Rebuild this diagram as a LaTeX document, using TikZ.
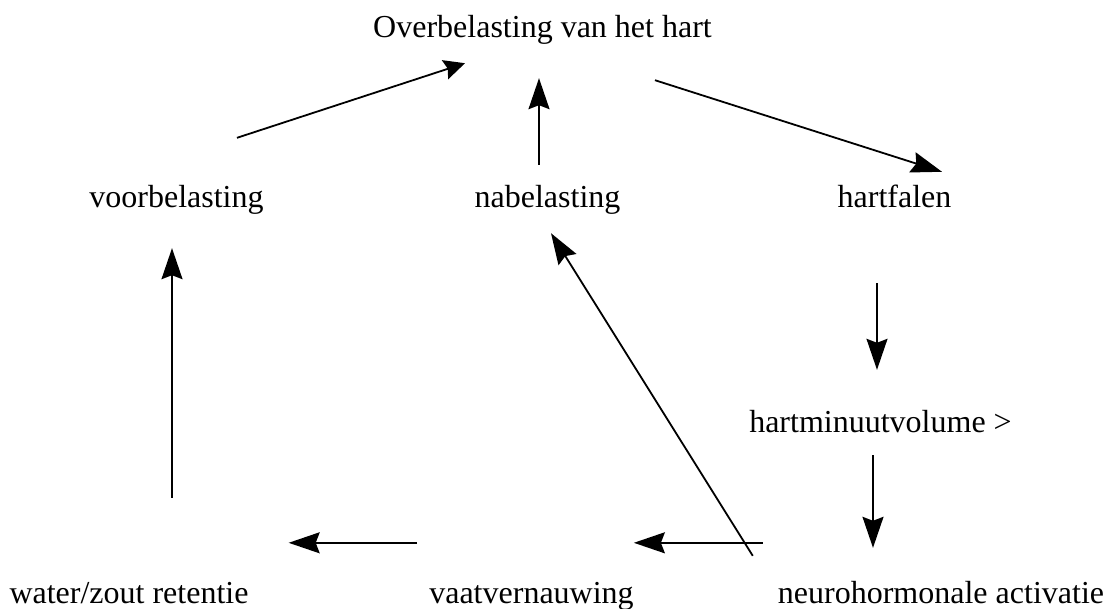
\documentclass[tikz,border=0pt]{standalone}
\usepackage{fontspec}
\setmainfont{Liberation Serif}
\usetikzlibrary{arrows.meta}
\begin{document}
\begin{tikzpicture}[x=1pt,y=-1pt,
lbl/.style={inner sep=0pt,anchor=base,text height=22pt,text depth=7pt,font=\fontsize{32}{38}\selectfont},
arr/.style={line width=1.8pt,-{Stealth[length=31pt,width=21pt,inset=4pt]}},
arrshort/.style={line width=1.8pt,-{Stealth[length=21pt,width=20pt,inset=3pt]}}]
\useasboundingbox (0,0) rectangle (1106,608);
\node[lbl] (over) at(542.5,37){Overbelasting van het hart};
\node[lbl] (voor) at(176.5,207){voorbelasting};
\node[lbl] (naba) at(547.5,207){nabelasting};
\node[lbl] (hart) at(894.5,207){hartfalen};
\node[lbl] (hmv) at(880.5,432){hartminuutvolume >};
\node[lbl] (water) at(129,603){water/zout retentie};
\node[lbl] (vaat) at(531.5,603){vaatvernauwing};
\node[lbl] (neuro) at(941,603){neurohormonale activatie};
\draw[arrshort] ([shift={(60.5,-47)}]voor.north) -- ([shift={(-77.5,19)}]over.south);
\draw[arr] ([shift={(-8.5,-20)}]naba.north) -- ([shift={(-3.5,34)}]over.south);
\draw[arr] ([shift={(-57,36)}]over.south east) -- ([shift={(47.5,-13)}]hart.north);
\draw[arr] ([shift={(-17.5,69)}]hart.south) -- ([shift={(-3.5,-40)}]hmv.north);
\draw[arr] ([shift={(-7.5,16)}]hmv.south) -- ([shift={(-68,-33)}]neuro.north);
\draw[arr] ([shift={(-15,-38)}]neuro.north west) -- ([shift={(0,-38)}]vaat.north east);
\draw[arr] ([shift={(-12,-38)}]vaat.north west) -- ([shift={(40,-38)}]water.north east);
\draw[arr] ([shift={(43,-83)}]water.north) -- ([shift={(-4.5,34)}]voor.south);
\draw[arr] ([shift={(-25,-25)}]neuro.north west) -- ([shift={(3.5,19)}]naba.south);
\end{tikzpicture}
\end{document}
